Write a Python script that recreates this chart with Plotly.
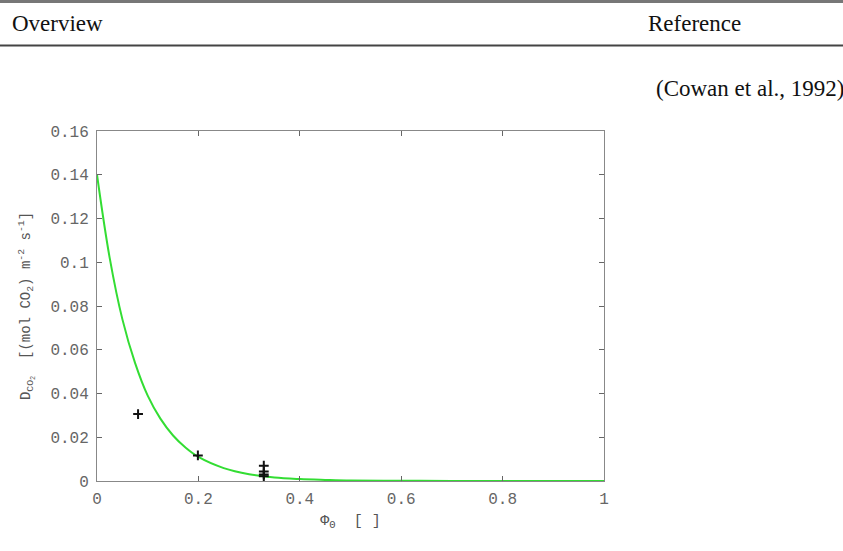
import plotly.graph_objects as go

# Model curve (green line)
curve_x = [0.0, 0.025, 0.05, 0.075, 0.1, 0.125, 0.15, 0.175, 0.2, 0.25, 0.3, 0.35, 0.4, 0.45, 0.5, 0.6, 0.7, 0.8, 0.9, 1.0]
curve_y = [0.140, 0.102, 0.074, 0.054, 0.039, 0.0285, 0.0208, 0.0152, 0.0110, 0.0059, 0.0031, 0.0016, 0.0009, 0.0005, 0.0002, 0.0001, 0.0, 0.0, 0.0, 0.0]

# Observations (black crosses)
obs_x = [0.081, 0.199, 0.329, 0.329, 0.329, 0.329]
obs_y = [0.0306, 0.0117, 0.0070, 0.0043, 0.0030, 0.0022]

x_ticks = [0, 0.2, 0.4, 0.6, 0.8, 1]
x_tick_text = ["0", "0.2", "0.4", "0.6", "0.8", "1"]
y_ticks = [0, 0.02, 0.04, 0.06, 0.08, 0.1, 0.12, 0.14, 0.16]
y_tick_text = ["0", "0.02", "0.04", "0.06", "0.08", "0.1", "0.12", "0.14", "0.16"]

W, H = 843, 551
L, R, T, B = 97, 239, 131, 70
pw, ph = W - L - R, H - T - B

def px(x):
    return (x - L) / pw

def py(y):
    return (H - B - y) / ph

mono = "Liberation Mono, Courier New, monospace"

fig = go.Figure()
fig.add_trace(go.Scatter(x=curve_x, y=curve_y, mode="lines", line=dict(color="#33dd33", width=2, shape="spline"),
                         showlegend=False, hoverinfo="skip"))
fig.add_trace(go.Scatter(x=obs_x, y=obs_y, mode="markers",
                         marker=dict(symbol="cross-thin", size=7, line=dict(color="#111111", width=2)),
                         showlegend=False))

axis_common = dict(showgrid=False, zeroline=False, showline=True, linecolor="#888888", linewidth=1,
                   mirror="ticks", ticks="inside", ticklen=5, tickcolor="#666666",
                   tickfont=dict(family=mono, size=16, color="#666666"))

fig.update_xaxes(range=[0, 1], tickmode="array", tickvals=x_ticks, ticktext=x_tick_text, ticklabelstandoff=3,
                 title=dict(text="Φ<sub>Θ</sub>  [ ]", standoff=6,
                            font=dict(family=mono, size=15, color="#555555")),
                 **axis_common)
fig.update_yaxes(range=[0, 0.16], tickmode="array", tickvals=y_ticks, ticktext=y_tick_text, ticklabelstandoff=4,
                 title=dict(text="D<sub>CO<sub>2</sub></sub>  [(mol CO<sub>2</sub>) m<sup>-2</sup> s<sup>-1</sup>]", standoff=16,
                            font=dict(family=mono, size=14, color="#555555")),
                 **axis_common)

serif = dict(family="Liberation Serif, Times New Roman, serif", size=23, color="#111111")
fig.add_annotation(x=px(10), y=py(23), xref="paper", yref="paper", text="Overview", showarrow=False,
                   xanchor="left", yanchor="middle", font=serif)
fig.add_annotation(x=px(646), y=py(23), xref="paper", yref="paper", text="Reference", showarrow=False,
                   xanchor="left", yanchor="middle", font=serif)
fig.add_annotation(x=px(846), y=py(88), xref="paper", yref="paper", text="(Cowan et al., 1992)", showarrow=False,
                   xanchor="right", yanchor="middle", font=serif)

fig.add_shape(type="line", xref="paper", yref="paper", x0=px(0), x1=px(843), y0=py(1.5), y1=py(1.5),
              line=dict(color="#777777", width=3))
fig.add_shape(type="line", xref="paper", yref="paper", x0=px(0), x1=px(843), y0=py(45.5), y1=py(45.5),
              line=dict(color="#444444", width=2))

fig.update_layout(width=W, height=H, margin=dict(l=L, r=R, t=T, b=B),
                  paper_bgcolor="white", plot_bgcolor="white")

fig.write_html("out.html")
